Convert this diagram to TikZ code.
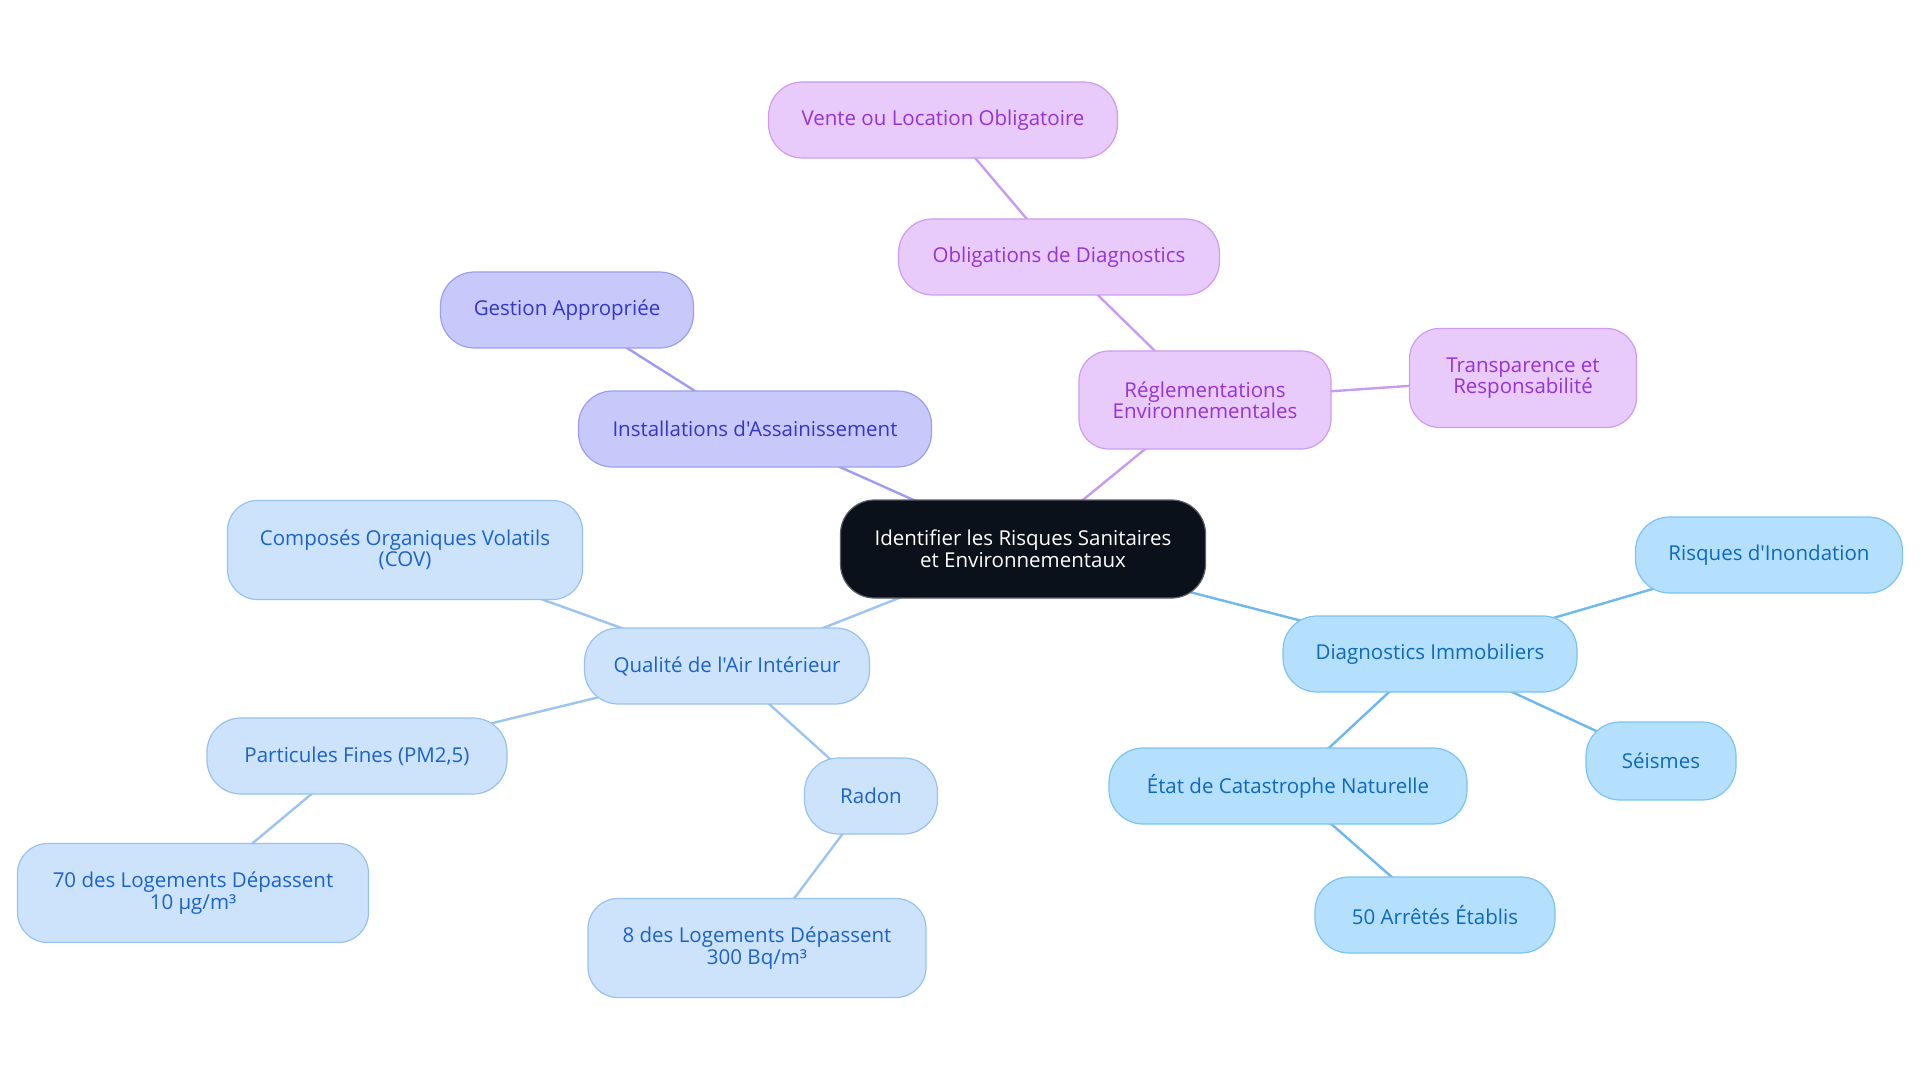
\documentclass[tikz,border=0pt]{standalone}
\usepackage{fontspec}
\setmainfont{Open Sans}[Ligatures=TeXOff]
\usetikzlibrary{backgrounds}
\definecolor{cfill}{HTML}{0B111A}
\definecolor{cdraw}{HTML}{5A5F66}
\definecolor{ifill}{HTML}{C8C9FB}
\definecolor{idraw}{HTML}{9C9EF0}
\definecolor{itext}{HTML}{3535C8}
\definecolor{iline}{HTML}{9D9CF2}
\definecolor{pfill}{HTML}{E8CAFB}
\definecolor{pdraw}{HTML}{CD9CF0}
\definecolor{ptext}{HTML}{9633D4}
\definecolor{pline}{HTML}{C99BF0}
\definecolor{bfill}{HTML}{B4DFFD}
\definecolor{bdraw}{HTML}{7CC3F2}
\definecolor{btext}{HTML}{0E6AB8}
\definecolor{bline}{HTML}{6DB8EE}
\definecolor{lfill}{HTML}{CDE3FB}
\definecolor{ldraw}{HTML}{97C2F0}
\definecolor{ltext}{HTML}{1B63C6}
\definecolor{lline}{HTML}{9BC4F0}
\tikzset{
  box/.style={rectangle, rounded corners=34pt, line width=1.2pt, align=center,
    inner sep=0pt, font=\fontsize{20.5}{21.5}\selectfont},
  tall/.style={rounded corners=30pt},
  centre/.style={box, fill=cfill, draw=cdraw, text=white},
  ibox/.style={box, fill=ifill, draw=idraw, text=itext},
  pbox/.style={box, fill=pfill, draw=pdraw, text=ptext},
  bbox/.style={box, fill=bfill, draw=bdraw, text=btext},
  lbox/.style={box, fill=lfill, draw=ldraw, text=ltext},
  edge/.style={line width=2.4pt}
}
\begin{document}
\begin{tikzpicture}[x=1pt,y=-1pt]
\useasboundingbox (0,0) rectangle (1920,1083);
% nodes
\node[centre, minimum width=365pt, minimum height=98pt] (c) at (1023,549) {Identifier les Risques Sanitaires\\et Environnementaux};
\node[ibox, minimum width=353pt, minimum height=76pt] (inst) at (755,429) {Installations d'Assainissement};
\node[ibox, minimum width=253pt, minimum height=76pt] (gest) at (567,310) {Gestion Appropriée};
\node[pbox, tall, minimum width=252pt, minimum height=98pt] (regl) at (1205,400) {Réglementations\\Environnementales};
\node[pbox, minimum width=321pt, minimum height=76pt] (oblig) at (1059,257) {Obligations de Diagnostics};
\node[pbox, minimum width=349pt, minimum height=76pt] (vente) at (943,120) {Vente ou Location Obligatoire};
\node[pbox, tall, minimum width=227pt, minimum height=99pt] (transp) at (1523,378) {Transparence et\\Responsabilité};
\node[bbox, minimum width=294pt, minimum height=76pt] (diag) at (1430,654) {Diagnostics Immobiliers};
\node[bbox, minimum width=267pt, minimum height=76pt] (inond) at (1769,555) {Risques d'Inondation};
\node[bbox, minimum width=150pt, minimum height=78pt] (seis) at (1661,761) {Séismes};
\node[bbox, minimum width=358pt, minimum height=76pt] (etat) at (1288,786) {État de Catastrophe Naturelle};
\node[bbox, minimum width=240pt, minimum height=76pt] (arr) at (1435,915) {50 Arrêtés Établis};
\node[lbox, minimum width=285pt, minimum height=76pt] (qual) at (727,666) {Qualité de l'Air Intérieur};
\node[lbox, tall, minimum width=355pt, minimum height=99pt] (cov) at (405,550) {Composés Organiques Volatils\\(COV)};
\node[lbox, minimum width=300pt, minimum height=76pt] (pm) at (357,756) {Particules Fines (PM2,5)};
\node[lbox, tall, minimum width=351pt, minimum height=99pt] (log70) at (193,893) {70 des Logements Dépassent\\10 µg/m³};
\node[lbox, minimum width=133pt, minimum height=76pt] (radon) at (871,796) {Radon};
\node[lbox, tall, minimum width=338pt, minimum height=99pt] (log8) at (757,948) {8 des Logements Dépassent\\300 Bq/m³};
% edges
\begin{scope}[on background layer]
\draw[edge, iline] (c.center) -- (inst.center);
\draw[edge, iline] (inst.center) -- (gest.center);
\draw[edge, pline] (c.center) -- (regl.center);
\draw[edge, pline] (regl.center) -- (oblig.center);
\draw[edge, pline] (oblig.center) -- (vente.center);
\draw[edge, pline] (regl.center) -- (transp.center);
\draw[edge, bline] (c.center) -- (diag.center);
\draw[edge, bline] (diag.center) -- (inond.center);
\draw[edge, bline] (diag.center) -- (seis.center);
\draw[edge, bline] (diag.center) -- (etat.center);
\draw[edge, bline] (etat.center) -- (arr.center);
\draw[edge, lline] (c.center) -- (qual.center);
\draw[edge, lline] (qual.center) -- (cov.center);
\draw[edge, lline] (qual.center) -- (pm.center);
\draw[edge, lline] (pm.center) -- (log70.center);
\draw[edge, lline] (qual.center) -- (radon.center);
\draw[edge, lline] (radon.center) -- (log8.center);
\end{scope}
\end{tikzpicture}
\end{document}
